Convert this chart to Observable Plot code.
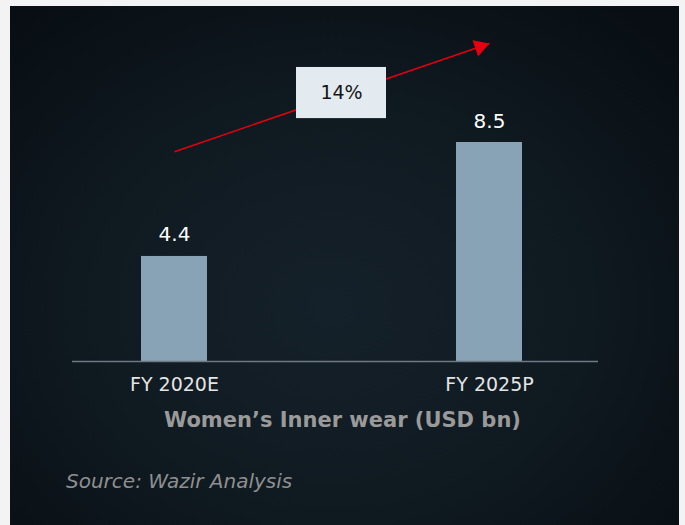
<!DOCTYPE html>
<html>
<head>
<meta charset="utf-8">
<script src="https://cdn.jsdelivr.net/npm/d3@7"></script>
<script src="https://cdn.jsdelivr.net/npm/@observablehq/plot@0.6"></script>
<style>
  html, body { margin: 0; padding: 0; background: #f3f3f3; width: 685px; height: 525px; overflow: hidden; }
  #panel { position: absolute; left: 10px; top: 6px; width: 669px; height: 519px;
    background: radial-gradient(ellipse 70% 75% at 48% 58%, #15212a 0%, #0f1920 55%, #080e13 100%); }
  #chart { position: absolute; left: 0; top: 0; }
  #title { position: absolute; left: 0; width: 685px; top: 408px; text-align: center;
    font-family: "DejaVu Sans", sans-serif; font-weight: bold; font-size: 21px; color: #9a9a9a; }
  #source { position: absolute; left: 66px; top: 469px;
    font-family: "DejaVu Sans", sans-serif; font-style: italic; font-size: 20px; color: #8f8f8f; }
</style>
</head>
<body>
<div id="panel"></div>
<div id="chart"></div>
<div id="title">Women’s Inner wear (USD bn)</div>
<div id="source">Source: Wazir Analysis</div>
<script>
// Data
const categories = ["FY 2020E", "FY 2025P"];
const values = [4.4, 8.5];
const valueLabels = ["4.4", "8.5"];
const growthLabel = ["14%"];
// growth arrow annotation (value-space endpoints)
const arrowFrom = ["FY 2020E"];
const arrowTo = ["FY 2025P"];
const arrowStartValue = [8.17];
const arrowEndValue = [12.06];
const growthBoxLow = [9.36];
const growthBoxHigh = [11.2];
const axisBase = 0.62;

const bars = categories.map((c, i) => ({cat: c, value: values[i], label: valueLabels[i]}));
const arrow = [{from: arrowFrom[0], to: arrowTo[0], y1: arrowStartValue[0], y2: arrowEndValue[0]}];
const box = [{cat: arrowFrom[0], lo: growthBoxLow[0], hi: growthBoxHigh[0], label: growthLabel[0]}];

const chart = Plot.plot({
  width: 685,
  height: 400,
  marginLeft: 72,
  marginRight: 87,
  marginTop: 20,
  marginBottom: 39,
  style: {background: "transparent", fontFamily: "DejaVu Sans, sans-serif", overflow: "visible"},
  x: {domain: categories, paddingInner: 0.791, paddingOuter: 0.228, align: 0.472},
  y: {domain: [axisBase, 12.89], axis: null},
  marks: [
    Plot.barY(bars, {x: "cat", y1: axisBase, y2: "value", fill: "#87a3b5"}),
    Plot.ruleY([axisBase], {stroke: "#6f7982", strokeWidth: 1.3}),
    Plot.axisX({tickSize: 0, tickPadding: 16, fontSize: 19, fill: "#e4e4e4", label: null}),
    Plot.text(bars, {x: "cat", y: "value", text: "label", lineAnchor: "bottom", dy: -15,
      fill: "#ffffff", fontSize: 20}),
    Plot.link(arrow, {x1: "from", y1: "y1", x2: "to", y2: "y2", stroke: "#e3000f", strokeWidth: 1.5}),
    Plot.dot(arrow, {x: "to", y: "y2", dx: -9.5, dy: 3.2, symbol: "triangle", r: 6.4,
      rotate: 71.1, fill: "#e3000f", stroke: "none"}),
    Plot.barY(box, {x: "cat", y1: "lo", y2: "hi", dx: 167, insetLeft: -12, insetRight: -12, fill: "#e3ebf1"}),
    Plot.text(box, {x: "cat", y: (d) => (d.lo + d.hi) / 2, dx: 167, text: "label",
      fill: "#141414", fontSize: 19, fontWeight: 500})
  ]
});
document.getElementById("chart").appendChild(chart);
</script>
</body>
</html>
